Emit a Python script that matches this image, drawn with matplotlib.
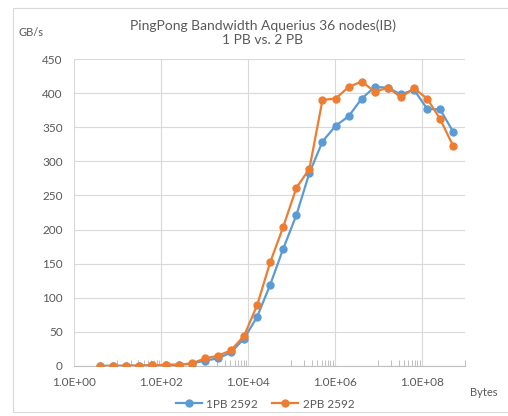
import matplotlib
matplotlib.use('Agg')
import matplotlib.pyplot as plt
from matplotlib.ticker import FixedLocator, NullFormatter
from matplotlib.patches import Rectangle

plt.rcParams['font.family'] = ['Lato', 'DejaVu Sans']

# message sizes in bytes
sizes = [4, 8, 16, 32, 64, 128, 256, 512, 1024, 2048, 4096, 8192,
         16384, 32768, 65536, 131072, 262144, 524288, 1048576, 2097152,
         4194304, 8388608, 16777216, 33554432, 67108864, 134217728,
         268435456, 536870912]

# bandwidth GB/s
pb1 = [0.1, 0.2, 0.3, 0.5, 0.9, 1.5, 1.8, 3.5, 8, 11, 20, 40, 72, 119,
       172, 221, 283, 329, 352, 366, 392, 409, 408, 398, 405, 377, 376, 343]
pb2 = [0.1, 0.2, 0.4, 0.6, 1.0, 1.7, 1.9, 3.8, 11, 15, 23, 44, 89, 152,
       204, 261, 289, 390, 392, 409, 417, 402, 408, 394, 407, 392, 362, 322]

xticks = [1e0, 1e2, 1e4, 1e6, 1e8]
xticklabels = ['1.0E+00', '1.0E+02', '1.0E+04', '1.0E+06', '1.0E+08']
yticks = [0, 50, 100, 150, 200, 250, 300, 350, 400, 450]

blue = '#5B9BD5'
orange = '#ED7D31'
txt = '#595959'
grid = '#D9D9D9'

W, H = 508, 416
fig = plt.figure(figsize=(W / 100, H / 100), dpi=100)

# chart border
fig.patches.append(Rectangle((13 / W, 4 / H), 1.0, (404) / H,
                             transform=fig.transFigure, fill=False,
                             edgecolor=grid, linewidth=0.8))

ax = fig.add_axes([74 / W, 50 / H, 391 / W, 307 / H])
ax.plot(sizes, pb1, '-o', color=blue, markersize=5, linewidth=1.6,
        label='1PB 2592', zorder=3)
ax.plot(sizes, pb2, '-o', color=orange, markersize=5, linewidth=1.6,
        label='2PB 2592', zorder=3)

ax.set_xscale('log')
ax.set_xlim(1, 1e9)
ax.set_ylim(0, 450)
ax.xaxis.set_major_locator(FixedLocator(xticks))
ax.set_xticklabels(xticklabels)
# excel style minor ticks: only in the odd decades (major unit = 100)
minor = [k * 10.0 ** e for e in (1, 3, 5, 7) for k in range(1, 10)] + [1e9]
ax.xaxis.set_minor_locator(FixedLocator(minor))
ax.xaxis.set_minor_formatter(NullFormatter())
ax.set_yticks(yticks)

ax.grid(True, which='major', color=grid, linewidth=0.8)
ax.set_axisbelow(True)
for s in ['top', 'right', 'left']:
    ax.spines[s].set_visible(False)
ax.spines['bottom'].set_color('#BFBFBF')
ax.tick_params(axis='both', which='major', length=0, colors=txt,
               labelsize=8.5, pad=8)
ax.tick_params(axis='x', which='minor', direction='in', length=4,
               color='#BFBFBF', width=0.7)

fig.text(263 / W, 1 - 32.5 / H,
         'PingPong Bandwidth Aquerius 36 nodes(IB)\n1 PB vs. 2 PB',
         ha='center', va='center', color=txt, fontsize=10, linespacing=1.25)
fig.text(31 / W, 1 - 33 / H, 'GB/s', ha='center', va='center',
         color=txt, fontsize=8)
fig.text(484 / W, 1 - 393 / H, 'Bytes', ha='center', va='center',
         color=txt, fontsize=8)

fig.legend(loc='center', bbox_to_anchor=(265 / W, 1 - 404 / H), ncol=2,
           frameon=False, fontsize=8.5, labelcolor=txt, handlelength=2.2,
           columnspacing=1.2, handletextpad=0.4, borderaxespad=0)

fig.savefig('out.png', dpi=100)
